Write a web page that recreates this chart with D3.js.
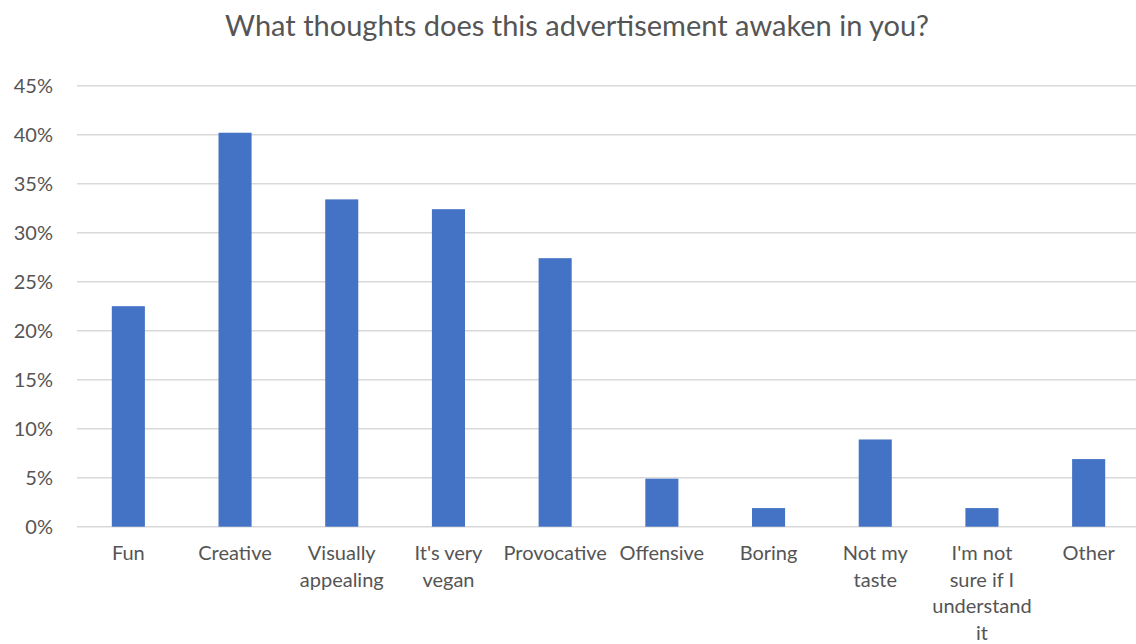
<!DOCTYPE html>
<html>
<head>
<meta charset="utf-8">
<script src="https://cdn.jsdelivr.net/npm/d3@7/dist/d3.min.js"></script>
<style>
  html, body { margin: 0; padding: 0; background: #fff; }
  svg { display: block; font-family: Lato, "Open Sans", sans-serif; }
</style>
</head>
<body>
<svg id="chart" width="1136" height="644"></svg>
<script>
// Survey answers: share of respondents choosing each thought
const categories = ["Fun", "Creative", "Visually appealing", "It's very vegan", "Provocative",
  "Offensive", "Boring", "Not my taste", "I'm not sure if I understand it", "Other"];
const categoryLines = [["Fun"], ["Creative"], ["Visually", "appealing"], ["It's very", "vegan"],
  ["Provocative"], ["Offensive"], ["Boring"], ["Not my", "taste"],
  ["I'm not", "sure if I", "understand", "it"], ["Other"]];
const shares = [0.225, 0.402, 0.334, 0.324, 0.274, 0.049, 0.019, 0.089, 0.019, 0.069];
const yTicks = [0, 0.05, 0.10, 0.15, 0.20, 0.25, 0.30, 0.35, 0.40, 0.45];
const title = "What thoughts does this advertisement awaken in you?";

const svg = d3.select("#chart");
const textColor = "#555555";

const x = d3.scaleBand().domain(categories).range([75, 1142]).paddingInner(0.69).paddingOuter(0.345);
const y = d3.scaleLinear().domain([0, 0.45]).range([526.7, 85.7]);

// Title
svg.append("text")
  .attr("x", 577).attr("y", 36)
  .attr("text-anchor", "middle")
  .attr("fill", textColor)
  .attr("font-size", 29)
  .text(title);

// Horizontal gridlines
svg.append("g")
  .selectAll("line")
  .data(yTicks)
  .join("line")
  .attr("x1", 77).attr("x2", 1136)
  .attr("y1", d => y(d)).attr("y2", d => y(d))
  .attr("stroke", "#d9d9d9").attr("stroke-width", 1.5);

// Y axis labels
const yAxis = d3.axisLeft(y).tickValues(yTicks).tickFormat(d3.format(".0%")).tickSize(0).tickPadding(0);
const yg = svg.append("g").attr("transform", "translate(53,0)").call(yAxis);
yg.select(".domain").remove();
yg.selectAll("text").attr("fill", textColor).attr("font-size", 20).attr("font-family", "Lato, sans-serif");

// Bars
svg.append("g")
  .selectAll("rect")
  .data(shares)
  .join("rect")
  .attr("x", (d, i) => x(categories[i]))
  .attr("width", x.bandwidth())
  .attr("y", d => y(d))
  .attr("height", d => y(0) - y(d))
  .attr("fill", "#4472c4");

// Category labels, wrapped over several lines
const xg = svg.append("g");
categories.forEach((c, i) => {
  const t = xg.append("text")
    .attr("x", x(c) + x.bandwidth() / 2)
    .attr("y", 560)
    .attr("text-anchor", "middle")
    .attr("fill", textColor)
    .attr("font-size", 20);
  categoryLines[i].forEach((line, j) => {
    t.append("tspan")
      .attr("x", x(c) + x.bandwidth() / 2)
      .attr("dy", j === 0 ? 0 : 26.5)
      .text(line);
  });
});
</script>
</body>
</html>
